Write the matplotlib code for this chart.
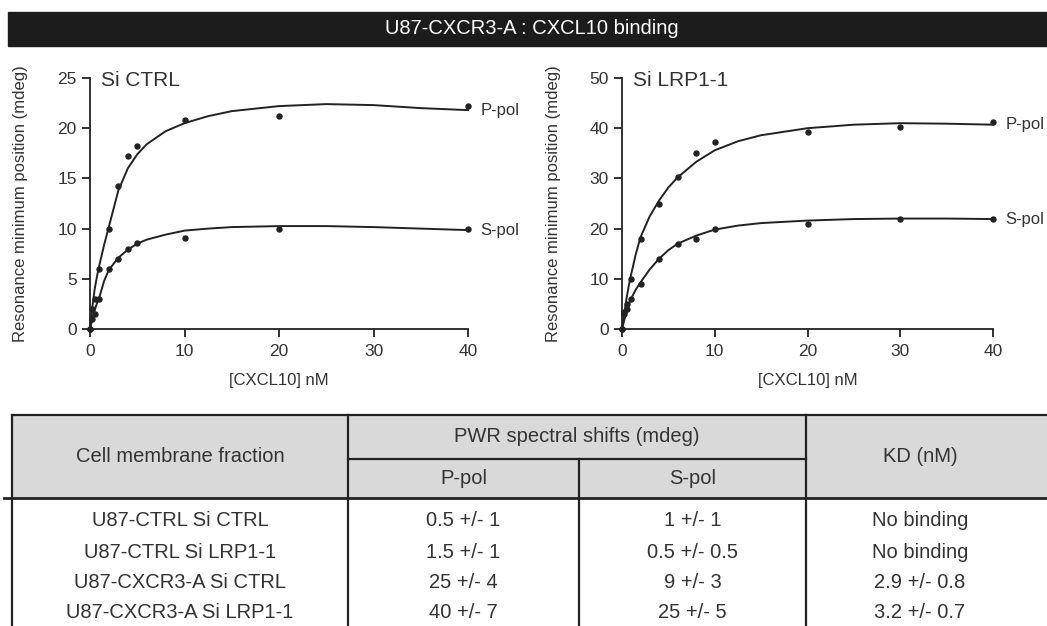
import matplotlib
matplotlib.use('Agg')
import matplotlib.pyplot as plt
from matplotlib.patches import Rectangle

plt.rcParams['font.family'] = ['Liberation Sans', 'DejaVu Sans']

# ---- binding data ----
ctrl_x = [0, 0.25, 0.5, 1, 2, 3, 4, 5, 10, 20, 40]
ctrl_p = [0, 2, 3, 6, 10, 14.2, 17.2, 18.2, 20.8, 21.2, 22.2]
ctrl_s = [0, 1, 1.5, 3, 6, 7, 8, 8.6, 9.1, 10, 10]

lrp_x = [0, 0.25, 0.5, 1, 2, 4, 6, 8, 10, 20, 30, 40]
lrp_p = [0, 3.3, 5, 10, 18, 25, 30.3, 35, 37.2, 39.3, 40.2, 41.3]
lrp_s = [0, 3, 4, 6, 9, 14, 17, 18, 20, 21, 22, 22]

# fitted curves, read at these concentrations
fit_x = [0, 0.25, 0.5, 0.75, 1, 1.5, 2, 3, 4, 5, 6, 8, 10, 12.5, 15, 20, 25, 30, 35, 40]
ctrl_p_fit = [0, 2.2, 4.0, 5.3, 6.4, 8.4, 10.2, 13.8, 16.0, 17.4, 18.4, 19.7, 20.5, 21.2, 21.7, 22.2, 22.4, 22.3, 22.0, 21.8]
ctrl_s_fit = [0, 1.0, 1.9, 2.6, 3.2, 4.8, 5.9, 7.1, 7.9, 8.5, 8.9, 9.4, 9.8, 10.0, 10.15, 10.25, 10.25, 10.15, 10.0, 9.85]
lrp_p_fit = [0, 3.2, 6.2, 8.8, 11.0, 15.0, 18.3, 22.5, 25.6, 28.2, 30.2, 33.3, 35.6, 37.4, 38.6, 40.0, 40.7, 41.0, 40.9, 40.7]
lrp_s_fit = [0, 1.8, 3.5, 4.9, 6.1, 7.9, 9.3, 11.9, 14.0, 15.7, 17.0, 18.6, 19.8, 20.6, 21.1, 21.6, 21.9, 22.0, 22.0, 21.9]

# ---- table ----
fractions = ['U87-CTRL Si CTRL', 'U87-CTRL Si LRP1-1',
             'U87-CXCR3-A Si CTRL', 'U87-CXCR3-A Si LRP1-1']
p_shift = ['0.5 +/- 1', '1.5 +/- 1', '25 +/- 4', '40 +/- 7']
s_shift = ['1 +/- 1', '0.5 +/- 0.5', '9 +/- 3', '25 +/- 5']
kd = ['No binding', 'No binding', '2.9 +/- 0.8', '3.2 +/- 0.7']

ink = '#222222'
txt = '#333333'

fig = plt.figure(figsize=(10.47, 6.26), dpi=100)


def panel(ax, xs, p, s, p_fit, s_fit, ymax, title):
    ax.plot(fit_x, p_fit, color=ink, lw=1.4, clip_on=False)
    ax.plot(fit_x, s_fit, color=ink, lw=1.4, clip_on=False)
    ax.plot(xs, p, 'o', ms=3.6, color=ink, clip_on=False)
    ax.plot(xs, s, 'o', ms=3.6, color=ink, clip_on=False)
    ax.annotate('P-pol', (fit_x[-1], p_fit[-1]), xytext=(9, 0), textcoords='offset points',
                va='center', fontsize=12, color=txt, annotation_clip=False)
    ax.annotate('S-pol', (fit_x[-1], s_fit[-1]), xytext=(9, 0), textcoords='offset points',
                va='center', fontsize=12, color=txt, annotation_clip=False)
    ax.set_xlim(0, 40)
    ax.set_ylim(0, ymax)
    ax.set_xticks([0, 10, 20, 30, 40])
    ax.set_yticks(range(0, ymax + 1, ymax // 5))
    for side in ['top', 'right']:
        ax.spines[side].set_visible(False)
    for side in ['left', 'bottom']:
        ax.spines[side].set_linewidth(1.3)
        ax.spines[side].set_color(ink)
    ax.tick_params(direction='out', length=6, width=1.3, color=ink, labelsize=12.5,
                   labelcolor=txt)
    ax.tick_params(axis='x', pad=5)
    ax.set_ylabel('Resonance minimum position (mdeg)', fontsize=12, color=txt)
    ax.set_xlabel('[CXCL10] nM', fontsize=12, color=txt)
    ax.yaxis.set_label_coords(-0.165, 0.5)
    ax.xaxis.set_label_coords(0.5, -0.175)
    ax.text(0.03, 0.99, title, transform=ax.transAxes, fontsize=15, color=txt, va='center')
    ax.patch.set_visible(False)


ax1 = fig.add_axes([90 / 1047, 1 - 329 / 626, 378 / 1047, 251 / 626])
panel(ax1, ctrl_x, ctrl_p, ctrl_s, ctrl_p_fit, ctrl_s_fit, 25, 'Si CTRL')
ax2 = fig.add_axes([622 / 1047, 1 - 329 / 626, 371 / 1047, 251 / 626])
panel(ax2, lrp_x, lrp_p, lrp_s, lrp_p_fit, lrp_s_fit, 50, 'Si LRP1-1')

# overlay in pixel coords for title bar and table
ov = fig.add_axes([0, 0, 1, 1], zorder=-1)
ov.set_xlim(0, 1047)
ov.set_ylim(626, 0)
ov.axis('off')

ov.add_patch(Rectangle((8, 12), 1045, 34, color='#1c1c1c'))
ov.text(532, 29, 'U87-CXCR3-A : CXCL10 binding', color='white', fontsize=14.5,
        ha='center', va='center')

left, right, top, mid, hdr, bottom = 12, 1060, 415, 459, 498, 640
c1, c2, c3 = 348, 579, 806
ov.add_patch(Rectangle((left, top), right - left, hdr - top, facecolor='#d9d9d9', edgecolor='none'))
lw = 1.6
ov.plot([left, right], [top, top], color=ink, lw=lw)
ov.plot([4, right], [hdr, hdr], color=ink, lw=2.0)
ov.plot([c1, c3], [mid, mid], color=ink, lw=lw)
for xx in [left, c1, c3]:
    ov.plot([xx, xx], [top, bottom], color=ink, lw=lw)
ov.plot([c2, c2], [mid, bottom], color=ink, lw=lw)

fs = 14.5
ov.text((left + c1) / 2, (top + hdr) / 2, 'Cell membrane fraction', ha='center', va='center', fontsize=fs, color=txt)
ov.text((c1 + c3) / 2, (top + mid) / 2, 'PWR spectral shifts (mdeg)', ha='center', va='center', fontsize=fs, color=txt)
ov.text((c1 + c2) / 2, (mid + hdr) / 2, 'P-pol', ha='center', va='center', fontsize=fs, color=txt)
ov.text((c2 + c3) / 2, (mid + hdr) / 2, 'S-pol', ha='center', va='center', fontsize=fs, color=txt)
ov.text(920, (top + hdr) / 2, 'KD (nM)', ha='center', va='center', fontsize=fs, color=txt)

row_y = [520, 552, 583, 613]
for i in range(len(fractions)):
    ov.text((left + c1) / 2, row_y[i], fractions[i], ha='center', va='center', fontsize=fs, color=txt)
    ov.text((c1 + c2) / 2, row_y[i], p_shift[i], ha='center', va='center', fontsize=fs, color=txt)
    ov.text((c2 + c3) / 2, row_y[i], s_shift[i], ha='center', va='center', fontsize=fs, color=txt)
    ov.text(920, row_y[i], kd[i], ha='center', va='center', fontsize=fs, color=txt)

fig.savefig('out.png', dpi=100)
